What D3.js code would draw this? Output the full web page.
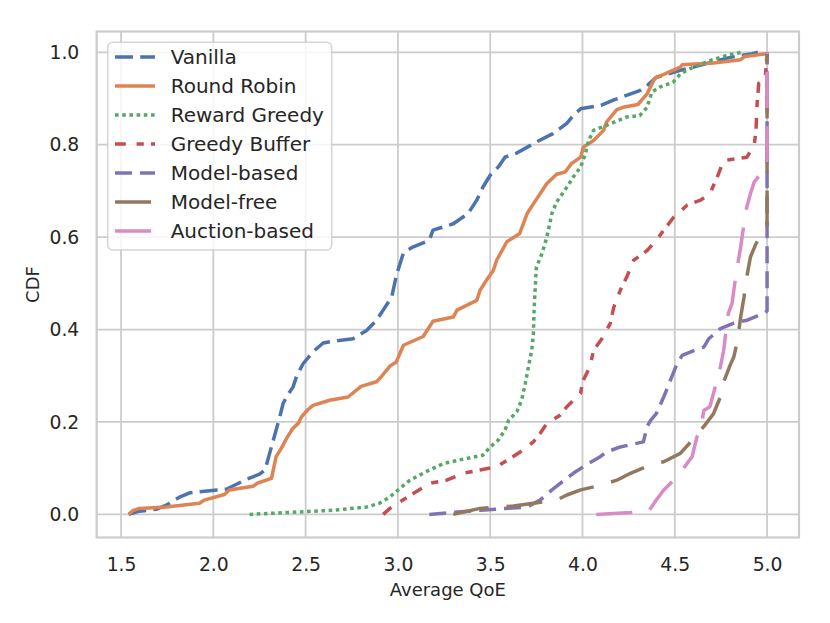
<!DOCTYPE html>
<html lang="en">
<head>
    <meta charset="UTF-8">
    <title>CDF of Average QoE</title>
    <script src="https://d3js.org/d3.v7.min.js"></script>
    <style>
        body { margin: 0; background: #fff; }
        text { font-family: "DejaVu Sans", sans-serif; fill: #262626; }
        .grid-line { stroke: #cccccc; stroke-width: 1.8; }
    </style>
</head>
<body>
    <div id="container"></div>
</body>
<script>
    // series: [Average QoE, CDF] pairs
    const vanilla = [[1.541,0],[1.60,0.007],[1.69,0.011],[1.745,0.02],[1.82,0.038],[1.875,0.047],[2.02,0.053],[2.073,0.055],[2.18,0.076],[2.25,0.087],[2.28,0.096],[2.30,0.125],[2.33,0.168],[2.36,0.211],[2.378,0.24],[2.405,0.26],[2.432,0.276],[2.45,0.298],[2.486,0.326],[2.54,0.352],[2.595,0.371],[2.65,0.375],[2.757,0.38],[2.83,0.398],[2.884,0.42],[2.92,0.442],[2.966,0.47],[2.99,0.514],[3.0,0.528],[3.03,0.566],[3.083,0.579],[3.17,0.593],[3.19,0.615],[3.30,0.629],[3.38,0.651],[3.427,0.68],[3.46,0.708],[3.50,0.734],[3.544,0.752],[3.58,0.773],[3.644,0.782],[3.716,0.798],[3.75,0.806],[3.84,0.824],[3.915,0.846],[3.95,0.863],[3.99,0.878],[4.10,0.885],[4.17,0.897],[4.31,0.917],[4.35,0.928],[4.40,0.946],[4.53,0.961],[4.62,0.97],[4.80,0.989],[4.92,0.997],[4.95,1.0]];
    const roundRobin = [[1.541,0],[1.563,0.008],[1.60,0.013],[1.745,0.016],[1.925,0.024],[1.95,0.031],[2.06,0.043],[2.087,0.053],[2.215,0.061],[2.24,0.068],[2.315,0.078],[2.34,0.125],[2.368,0.143],[2.396,0.164],[2.43,0.186],[2.46,0.197],[2.477,0.211],[2.513,0.227],[2.54,0.236],[2.63,0.247],[2.73,0.254],[2.80,0.277],[2.884,0.287],[2.91,0.298],[2.957,0.321],[2.99,0.329],[3.03,0.366],[3.137,0.385],[3.19,0.418],[3.30,0.427],[3.32,0.442],[3.427,0.463],[3.445,0.485],[3.48,0.507],[3.517,0.528],[3.535,0.55],[3.59,0.59],[3.66,0.608],[3.70,0.651],[3.734,0.672],[3.807,0.716],[3.86,0.736],[3.906,0.741],[3.94,0.759],[3.99,0.773],[4.005,0.795],[4.06,0.809],[4.114,0.831],[4.13,0.849],[4.186,0.876],[4.22,0.881],[4.30,0.887],[4.35,0.91],[4.39,0.943],[4.467,0.957],[4.53,0.968],[4.54,0.973],[4.71,0.977],[4.857,0.984],[4.88,0.991],[5.0,0.997],[5.0,1.0]];
    const rewardGreedy = [[2.196,0],[2.65,0.009],[2.83,0.016],[2.90,0.024],[2.957,0.038],[3.01,0.056],[3.065,0.074],[3.17,0.096],[3.246,0.11],[3.37,0.121],[3.46,0.128],[3.50,0.146],[3.544,0.161],[3.58,0.182],[3.60,0.204],[3.644,0.222],[3.67,0.247],[3.69,0.283],[3.707,0.319],[3.725,0.355],[3.734,0.391],[3.737,0.435],[3.745,0.5],[3.75,0.535],[3.78,0.564],[3.807,0.60],[3.834,0.651],[3.86,0.676],[3.915,0.708],[3.95,0.73],[3.99,0.752],[4.015,0.78],[4.033,0.809],[4.06,0.831],[4.13,0.842],[4.24,0.86],[4.31,0.863],[4.35,0.881],[4.376,0.914],[4.42,0.925],[4.49,0.935],[4.53,0.953],[4.58,0.964],[4.69,0.982],[4.78,0.993],[4.86,1.0]];
    const greedyBuffer = [[2.92,0],[2.957,0.013],[3.01,0.027],[3.083,0.045],[3.17,0.067],[3.264,0.074],[3.354,0.089],[3.445,0.096],[3.535,0.103],[3.608,0.121],[3.662,0.135],[3.734,0.157],[3.77,0.175],[3.807,0.197],[3.88,0.215],[3.915,0.233],[3.99,0.262],[4.0,0.287],[4.04,0.319],[4.06,0.355],[4.105,0.38],[4.15,0.413],[4.17,0.449],[4.205,0.485],[4.24,0.514],[4.277,0.55],[4.35,0.571],[4.40,0.593],[4.44,0.615],[4.494,0.643],[4.566,0.669],[4.64,0.68],[4.69,0.694],[4.73,0.73],[4.765,0.766],[4.89,0.773],[4.93,0.798],[4.94,0.831],[4.946,0.889],[4.955,0.933],[4.99,0.94],[5.0,1.0]];
    const modelBased = [[3.17,0],[3.445,0.009],[3.70,0.016],[3.77,0.031],[3.843,0.056],[3.95,0.089],[4.02,0.107],[4.096,0.125],[4.13,0.135],[4.205,0.146],[4.33,0.157],[4.35,0.19],[4.37,0.204],[4.40,0.218],[4.44,0.254],[4.476,0.29],[4.512,0.326],[4.54,0.344],[4.60,0.354],[4.657,0.362],[4.684,0.38],[4.747,0.402],[4.82,0.414],[4.89,0.42],[4.98,0.435],[5.0,0.44],[5.0,1.0]];
    const modelFree = [[3.30,0],[3.445,0.013],[3.626,0.018],[3.734,0.024],[3.86,0.031],[3.915,0.042],[3.99,0.053],[4.096,0.063],[4.186,0.074],[4.26,0.089],[4.35,0.104],[4.44,0.114],[4.53,0.132],[4.58,0.154],[4.62,0.175],[4.657,0.19],[4.71,0.218],[4.747,0.254],[4.765,0.287],[4.80,0.323],[4.82,0.341],[4.84,0.377],[4.857,0.427],[4.875,0.47],[4.89,0.514],[4.91,0.557],[4.94,0.586],[4.98,0.611],[5.0,0.62],[5.0,1.0]];
    const auctionBased = [[4.075,0],[4.26,0.004],[4.36,0.008],[4.40,0.031],[4.44,0.053],[4.494,0.074],[4.54,0.096],[4.594,0.125],[4.62,0.168],[4.64,0.182],[4.657,0.225],[4.69,0.233],[4.71,0.262],[4.747,0.319],[4.765,0.355],[4.78,0.406],[4.79,0.435],[4.81,0.456],[4.83,0.514],[4.857,0.579],[4.875,0.629],[4.89,0.665],[4.91,0.694],[4.93,0.719],[4.97,0.74],[5.0,0.75],[5.0,1.0]];

    const names = ["Vanilla", "Round Robin", "Reward Greedy", "Greedy Buffer", "Model-based", "Model-free", "Auction-based"];
    const colors = ["#4c72b0", "#dd8452", "#55a868", "#c44e52", "#8172b3", "#937860", "#da8bc3"];
    const dashes = ["18,7.2", null, "3.6,3.6", "10.8,10.8,7.2,7.2", "17,8", "36,18", "36,18"];
    const xTicks = [1.5, 2.0, 2.5, 3.0, 3.5, 4.0, 4.5, 5.0];
    const yTicks = [0.0, 0.2, 0.4, 0.6, 0.8, 1.0];

    const series = [vanilla, roundRobin, rewardGreedy, greedyBuffer, modelBased, modelFree, auctionBased];

    const width = 830,
        height = 623,
        plotLeft = 96.7,
        plotRight = 799,
        plotTop = 31.5,
        plotBottom = 537.5;

    const xScale = d3.scaleLinear()
        .domain([1.368, 5.173])
        .range([plotLeft, plotRight]);

    const yScale = d3.scaleLinear()
        .domain([-0.05, 1.045])
        .range([plotBottom, plotTop]);

    const svg = d3.select("#container")
        .append("svg")
        .attr("width", width)
        .attr("height", height);

    // grid
    svg.append("g")
        .selectAll("line")
        .data(xTicks)
        .join("line")
        .classed("grid-line", true)
        .attr("x1", d => xScale(d))
        .attr("x2", d => xScale(d))
        .attr("y1", plotTop)
        .attr("y2", plotBottom);

    svg.append("g")
        .selectAll("line")
        .data(yTicks)
        .join("line")
        .classed("grid-line", true)
        .attr("x1", plotLeft)
        .attr("x2", plotRight)
        .attr("y1", d => yScale(d))
        .attr("y2", d => yScale(d));

    // axes, no tick marks
    const xAxis = d3.axisBottom(xScale)
        .tickValues(xTicks)
        .tickFormat(d3.format(".1f"))
        .tickSize(0)
        .tickPadding(20);

    const yAxis = d3.axisLeft(yScale)
        .tickValues(yTicks)
        .tickFormat(d3.format(".1f"))
        .tickSize(0)
        .tickPadding(17.4);

    svg.append("g")
        .attr("transform", `translate(0, ${plotBottom})`)
        .call(xAxis)
        .call(g => g.select(".domain").remove())
        .selectAll("text")
        .attr("font-size", 18.8)
        .attr("font-family", "DejaVu Sans")
        .attr("fill", "#262626");

    svg.append("g")
        .attr("transform", `translate(${plotLeft}, 0)`)
        .call(yAxis)
        .call(g => g.select(".domain").remove())
        .selectAll("text")
        .attr("font-size", 18.8)
        .attr("font-family", "DejaVu Sans")
        .attr("fill", "#262626");

    // curves
    const line = d3.line()
        .x(d => xScale(d[0]))
        .y(d => yScale(d[1]));

    const plot = svg.append("g");
    series.forEach((s, i) => {
        plot.append("path")
            .datum(s)
            .attr("d", line)
            .attr("fill", "none")
            .attr("stroke", colors[i])
            .attr("stroke-width", 3.5)
            .attr("stroke-linejoin", "round")
            .attr("stroke-linecap", "butt")
            .attr("stroke-dasharray", dashes[i]);
    });

    // frame
    svg.append("rect")
        .attr("x", plotLeft)
        .attr("y", plotTop)
        .attr("width", plotRight - plotLeft)
        .attr("height", plotBottom - plotTop)
        .attr("fill", "none")
        .attr("stroke", "#cccccc")
        .attr("stroke-width", 2.2);

    // axis labels
    svg.append("text")
        .attr("x", (plotLeft + plotRight) / 2)
        .attr("y", 596)
        .attr("text-anchor", "middle")
        .attr("font-size", 18)
        .text("Average QoE");

    svg.append("text")
        .attr("transform", `translate(39, ${(plotTop + plotBottom) / 2}) rotate(-90)`)
        .attr("text-anchor", "middle")
        .attr("font-size", 18)
        .text("CDF");

    // legend
    const legend = svg.append("g");
    legend.append("rect")
        .attr("x", 107.7)
        .attr("y", 42.3)
        .attr("width", 224)
        .attr("height", 207.7)
        .attr("rx", 5)
        .attr("fill", "white")
        .attr("fill-opacity", 0.8)
        .attr("stroke", "#cccccc")
        .attr("stroke-opacity", 0.8)
        .attr("stroke-width", 1.6);

    const rows = legend.selectAll("g.row")
        .data(names)
        .join("g")
        .classed("row", true)
        .attr("transform", (d, i) => `translate(0, ${57 + i * 29})`);

    rows.append("line")
        .attr("x1", 115)
        .attr("x2", 155)
        .attr("y1", 0)
        .attr("y2", 0)
        .attr("stroke", (d, i) => colors[i])
        .attr("stroke-width", 3.5)
        .attr("stroke-dasharray", (d, i) => dashes[i]);

    rows.append("text")
        .attr("x", 170.7)
        .attr("y", 0)
        .attr("dy", "0.35em")
        .attr("font-size", 20)
        .text(d => d);
</script>
</html>
